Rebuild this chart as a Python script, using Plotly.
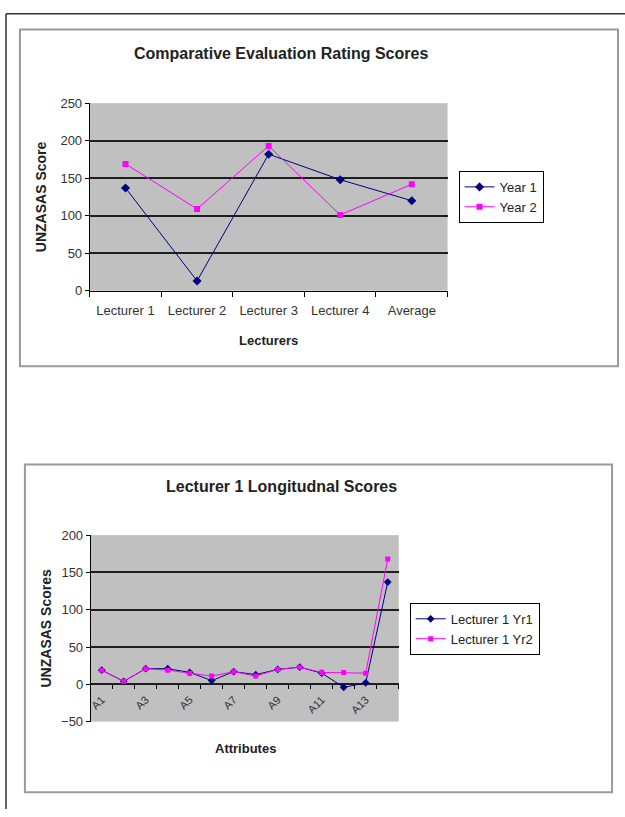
import plotly.graph_objects as go

W, H = 625, 817

# ---- Data: chart 1 ----
lecturers = ["Lecturer 1", "Lecturer 2", "Lecturer 3", "Lecturer 4", "Average"]
year1 = [137, 13, 182, 148, 120]
year2 = [169, 109, 193, 101, 142]

# ---- Data: chart 2 ----
attributes = ["A1", "A2", "A3", "A4", "A5", "A6", "A7", "A8", "A9", "A10", "A11", "A12", "A13", "A14"]
attr_ticks = ["A1", "A3", "A5", "A7", "A9", "A11", "A13"]
lect1_yr1 = [19, 4, 21, 21, 16, 5, 17, 13, 20, 23, 15, -4, 2, 137]
lect1_yr2 = [19, 4, 21, 19, 15, 11, 17, 11, 20, 23, 16, 16, 15, 168]

NAVY = "#000080"
MAG = "#FF00FF"
FONT = "Liberation Sans, Arial, sans-serif"


def px(x):
    return x / W


def py(y):
    return 1 - y / H


fig = go.Figure()

fig.add_trace(go.Scatter(x=lecturers, y=year1, name="Year 1", mode="lines+markers",
                         line=dict(color=NAVY, width=1),
                         marker=dict(symbol="diamond", size=7, color=NAVY),
                         xaxis="x", yaxis="y", legend="legend"))
fig.add_trace(go.Scatter(x=lecturers, y=year2, name="Year 2", mode="lines+markers",
                         line=dict(color=MAG, width=1),
                         marker=dict(symbol="square", size=6, color=MAG),
                         xaxis="x", yaxis="y", legend="legend"))

fig.add_trace(go.Scatter(x=attributes, y=lect1_yr1, name="Lecturer 1 Yr1", mode="lines+markers",
                         line=dict(color=NAVY, width=1),
                         marker=dict(symbol="diamond", size=6, color=NAVY),
                         xaxis="x2", yaxis="y2", legend="legend2"))
fig.add_trace(go.Scatter(x=attributes, y=lect1_yr2, name="Lecturer 1 Yr2", mode="lines+markers",
                         line=dict(color=MAG, width=1),
                         marker=dict(symbol="square", size=5, color=MAG),
                         xaxis="x2", yaxis="y2", legend="legend2"))

tickfont = dict(family=FONT, size=13, color="#333333")
titlefont = dict(family=FONT, size=13, color="#222222")
ytitlefont = dict(family=FONT, size=14, color="#222222")

# plot-area geometry (pixels)
t_l, t_r, t_t, t_b = 88, 447, 98, 289
b_l, b_r, b_t, b_b = 89, 398, 538, 728
zero_y = b_b - (0 - (-50)) / 250 * (b_b - b_t)

attr_text = [a if a in attr_ticks else "" for a in attributes]

fig.update_layout(
    width=W, height=H,
    margin=dict(l=0, r=0, t=0, b=0),
    paper_bgcolor="white",
    plot_bgcolor="#C0C0C0",
    font=dict(family=FONT, color="#222222"),
    xaxis=dict(domain=[px(t_l), px(t_r)], anchor="y", type="category",
               range=[-0.5, 4.5], showgrid=False, tickfont=tickfont,
               ticks="outside", ticklen=5, tickcolor="#000", tickson="boundaries",
               ticklabelstandoff=8,
               title=dict(text="<b>Lecturers</b>", font=titlefont, standoff=18),
               showline=True, linecolor="#000", linewidth=1, mirror=False),
    yaxis=dict(domain=[py(t_b), py(t_t)], anchor="x", range=[0, 250], dtick=50,
               showgrid=True, gridcolor="#1e1e1e", gridwidth=2, tickfont=tickfont,
               ticks="outside", ticklen=4, tickcolor="#000", zeroline=False,
               showline=True, linecolor="#000", linewidth=1,
               title=dict(text="<b>UNZASAS Score</b>", font=ytitlefont, standoff=10)),
    xaxis2=dict(domain=[px(b_l), px(b_r)], anchor="free", position=py(zero_y),
                type="category", range=[-0.5, 13.5], showgrid=False,
                tickvals=attributes, ticktext=attr_text, tickangle=-45,
                tickfont=dict(family=FONT, size=11, color="#333333"),
                ticks="outside", ticklen=4, tickcolor="#000", tickson="boundaries",
                ticklabelstandoff=6,
                showline=False),
    yaxis2=dict(domain=[py(b_b), py(b_t)], anchor="x2", range=[-50, 200], dtick=50,
                showgrid=True, gridcolor="#1e1e1e", gridwidth=2, tickfont=tickfont,
                ticks="outside", ticklen=4, tickcolor="#000", zeroline=True,
                zerolinecolor="#1e1e1e", zerolinewidth=2,
                showline=True, linecolor="#000", linewidth=1,
                title=dict(text="<b>UNZASAS Scores</b>", font=ytitlefont, standoff=6)),
    legend=dict(x=px(458), y=py(167), xanchor="left", yanchor="top",
                bgcolor="white", bordercolor="#000", borderwidth=1,
                font=dict(family=FONT, size=13, color="#222"),
                itemwidth=30, tracegroupgap=0),
    legend2=dict(x=px(409), y=py(607), xanchor="left", yanchor="top",
                 bgcolor="white", bordercolor="#000", borderwidth=1,
                 font=dict(family=FONT, size=13, color="#222"),
                 itemwidth=30, tracegroupgap=0),
    showlegend=True,
)

# titles
fig.add_annotation(text="<b>Comparative Evaluation Rating Scores</b>", x=px(280), y=py(47),
                   xref="paper", yref="paper", showarrow=False, yanchor="middle",
                   font=dict(family=FONT, size=16, color="#222"))
fig.add_annotation(text="<b>Lecturer 1 Longitudnal Scores</b>", x=px(280), y=py(488),
                   xref="paper", yref="paper", showarrow=False, yanchor="middle",
                   font=dict(family=FONT, size=16, color="#222"))
fig.add_annotation(text="<b>Attributes</b>", x=px(244), y=py(755),
                   xref="paper", yref="paper", showarrow=False, yanchor="middle",
                   font=titlefont)

# chart boxes and outer frame
fig.add_shape(type="rect", xref="paper", yref="paper", x0=px(18), x1=px(618), y0=py(366), y1=py(23),
              line=dict(color="#9a9a9a", width=2))
fig.add_shape(type="rect", xref="paper", yref="paper", x0=px(23), x1=px(612), y0=py(800), y1=py(466),
              line=dict(color="#9a9a9a", width=2))
fig.add_shape(type="line", xref="paper", yref="paper", x0=px(4), x1=px(625), y0=py(7), y1=py(7),
              line=dict(color="#333", width=1.5))
fig.add_shape(type="line", xref="paper", yref="paper", x0=px(4), x1=px(4), y0=py(7), y1=py(817),
              line=dict(color="#333", width=1.5))

fig.write_html("out.html", config={"displayModeBar": False},
               post_script="document.body.style.margin='0';document.body.style.overflow='hidden';")
